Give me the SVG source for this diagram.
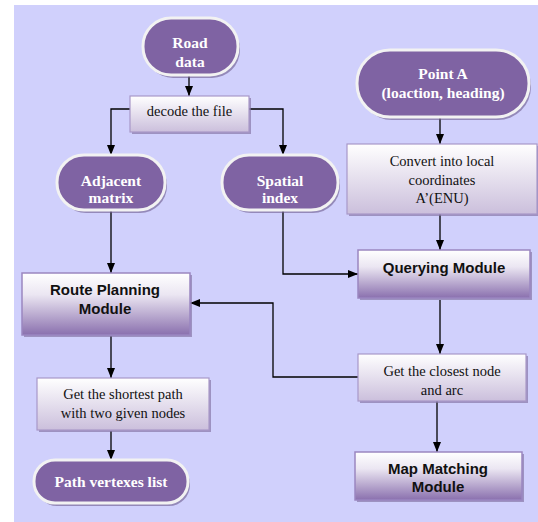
<svg xmlns="http://www.w3.org/2000/svg" width="538" height="522" viewBox="0 0 538 522">
<style>
.term{fill:#7f63a3;stroke:#f2f2f2;stroke-width:3}
.tsh{fill:#6d5a8c;opacity:0.6}
.proc{fill:url(#gl);stroke:#a898c8;stroke-width:1.2}
.mod{fill:url(#gm);stroke:#9a86c0;stroke-width:1.5}
.sh{fill:#8878a8;opacity:0.7}
.tt{font-family:'Liberation Serif','Times New Roman','DejaVu Serif',serif;font-weight:bold;font-size:15.5px;fill:#fff;text-anchor:middle}
.pt{font-family:'Liberation Serif','Times New Roman','DejaVu Serif',serif;font-size:14.5px;fill:#111;text-anchor:middle}
.mt{font-family:'Liberation Sans',Arial,sans-serif;font-weight:bold;font-size:15px;fill:#111;text-anchor:middle}
.c{fill:none;stroke:#000;stroke-width:1.3;marker-end:url(#ah)}
</style>
<defs>
<linearGradient id="gl" x1="0" y1="0" x2="0" y2="1"><stop offset="0" stop-color="#ffffff"/><stop offset="1" stop-color="#cbbfdc"/></linearGradient>
<linearGradient id="gm" x1="0" y1="0" x2="0" y2="1"><stop offset="0" stop-color="#ffffff"/><stop offset="0.35" stop-color="#ebe6f2"/><stop offset="1" stop-color="#8a70ae"/></linearGradient>
<marker id="ah" markerUnits="userSpaceOnUse" markerWidth="10" markerHeight="10" viewBox="0 0 10 10" refX="10" refY="5" orient="auto"><path d="M0,1 L10,5 L0,9 Z" fill="#000"/></marker>
</defs>
<rect x="14" y="5" width="524" height="517" fill="#d0d0fc"/>
<g id="connectors">
<path class="c" d="M189,76 V96"/>
<path class="c" d="M130,109 H111 V155"/>
<path class="c" d="M249,109 H283 V155"/>
<path class="c" d="M440,118 V144"/>
<path class="c" d="M440,214 V250"/>
<path class="c" d="M283,211 V274 H358"/>
<path class="c" d="M111,211 V273"/>
<path class="c" d="M440,300 V354"/>
<path class="c" d="M358,377 H273 V303 H190"/>
<path class="c" d="M437,401 V452"/>
<path class="c" d="M111,336 V378"/>
<path class="c" d="M111,431 V460"/>
</g>
<g id="road-data">
<rect class="tsh" x="145" y="21" width="95" height="57" rx="28"/>
<rect class="term" x="143" y="18" width="95" height="57" rx="28"/>
<text class="tt" x="190" y="48">Road</text>
<text class="tt" x="190" y="67">data</text>
</g>
<g id="decode">
<rect class="sh" x="132" y="98" width="119" height="36"/>
<rect class="proc" x="130" y="96" width="119" height="36"/>
<text class="pt" x="189.5" y="116">decode the file</text>
</g>
<g id="adjacent">
<rect class="tsh" x="59" y="158" width="108" height="55" rx="27"/>
<rect class="term" x="57" y="155" width="108" height="55" rx="27"/>
<text class="tt" x="111" y="186">Adjacent</text>
<text class="tt" x="111" y="203">matrix</text>
</g>
<g id="spatial">
<rect class="tsh" x="224" y="158" width="116" height="55" rx="27"/>
<rect class="term" x="222" y="155" width="116" height="55" rx="27"/>
<text class="tt" x="280" y="186">Spatial</text>
<text class="tt" x="280" y="203">index</text>
</g>
<g id="point-a">
<rect class="tsh" x="359" y="53" width="172" height="67" rx="33"/>
<rect class="term" x="357" y="50" width="172" height="67" rx="33"/>
<text class="tt" x="443" y="79">Point A</text>
<text class="tt" x="443" y="98">(loaction, heading)</text>
</g>
<g id="convert">
<rect class="sh" x="349" y="146" width="190" height="70"/>
<rect class="proc" x="347" y="144" width="190" height="70"/>
<text class="pt" x="442" y="166">Convert into local</text>
<text class="pt" x="442" y="185">coordinates</text>
<text class="pt" x="442" y="203">A’(ENU)</text>
</g>
<g id="querying">
<rect class="sh" x="360" y="252" width="172" height="48"/>
<rect class="mod" x="358" y="250" width="172" height="48"/>
<text class="mt" x="444" y="273">Querying Module</text>
</g>
<g id="route-planning">
<rect class="sh" x="24" y="275" width="168" height="62"/>
<rect class="mod" x="22" y="273" width="168" height="62"/>
<text class="mt" x="105" y="295">Route Planning</text>
<text class="mt" x="105" y="314">Module</text>
</g>
<g id="closest">
<rect class="sh" x="360" y="356" width="168" height="47"/>
<rect class="proc" x="358" y="354" width="168" height="47"/>
<text class="pt" x="442" y="376">Get the closest node</text>
<text class="pt" x="442" y="395">and arc</text>
</g>
<g id="map-matching">
<rect class="sh" x="357" y="454" width="167" height="48"/>
<rect class="mod" x="355" y="452" width="167" height="48"/>
<text class="mt" x="438" y="474">Map Matching</text>
<text class="mt" x="438" y="492">Module</text>
</g>
<g id="shortest">
<rect class="sh" x="39" y="380" width="172" height="52"/>
<rect class="proc" x="37" y="378" width="172" height="52"/>
<text class="pt" x="123" y="399">Get the shortest path</text>
<text class="pt" x="123" y="418">with two given nodes</text>
</g>
<g id="path-vertexes">
<rect class="tsh" x="36" y="463" width="154" height="43" rx="21"/>
<rect class="term" x="34" y="460" width="154" height="43" rx="21"/>
<text class="tt" x="111" y="487">Path vertexes list</text>
</g>
</svg>
